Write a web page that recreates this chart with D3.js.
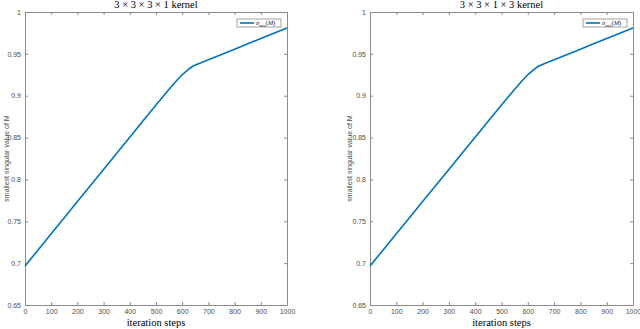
<!DOCTYPE html>
<html>
<head>
<meta charset="utf-8">
<script src="https://cdn.jsdelivr.net/npm/d3@7"></script>
<style>
  body { margin: 0; background: #fff; }
  svg { display: block; }
</style>
</head>
<body>
<div id="chart"></div>
<script>
const steps = [0, 50, 100, 150, 200, 250, 300, 350, 400, 450, 500, 550, 580, 605, 625, 640, 660, 700, 750, 800, 850, 900, 950, 1000]
const sigmaLeft = [0.6965, 0.7158, 0.735, 0.7543, 0.7735, 0.7928, 0.812, 0.8313, 0.8505, 0.8698, 0.889, 0.9078, 0.9185, 0.9265, 0.9318, 0.9352, 0.938, 0.9429, 0.9492, 0.9556, 0.962, 0.9683, 0.9747, 0.981]
const sigmaRight = [0.6965, 0.7158, 0.735, 0.7543, 0.7735, 0.7928, 0.812, 0.8313, 0.8505, 0.8698, 0.889, 0.9078, 0.9185, 0.9265, 0.9318, 0.9352, 0.938, 0.9429, 0.9492, 0.9556, 0.962, 0.9683, 0.9747, 0.981]
const titles = ["3 \u00d7 3 \u00d7 3 \u00d7 1 kernel", "3 \u00d7 3 \u00d7 1 \u00d7 3 kernel"]
const xTicks = [0, 100, 200, 300, 400, 500, 600, 700, 800, 900, 1000]
const yTicks = [0.65, 0.7, 0.75, 0.8, 0.85, 0.9, 0.95, 1]

const W = 640, H = 329
const svg = d3.select("#chart").append("svg")
    .attr("width", W)
    .attr("height", H)

const panels = [
  {left: 25, right: 287, labelX: 9, data: sigmaLeft, title: titles[0]},
  {left: 370, right: 633, labelX: 352, data: sigmaRight, title: titles[1]}
]
const plotTop = 12, plotBottom = 305
const axisColor = "#8c8c8c"
const textColor = "#4d4d4d"

panels.forEach(function(p) {
  const x = d3.scaleLinear().domain([0, 1000]).range([p.left, p.right])
  const y = d3.scaleLinear().domain([0.65, 1]).range([plotBottom, plotTop])
  const g = svg.append("g")

  // axes, ticks pointing inward like matlab
  const xb = g.append("g")
    .attr("transform", `translate(0,${plotBottom})`)
    .call(d3.axisBottom(x).tickValues(xTicks).tickSizeInner(-3).tickSizeOuter(0).tickPadding(5).tickFormat(d3.format("d")))
  g.append("g")
    .attr("transform", `translate(0,${plotTop})`)
    .call(d3.axisTop(x).tickValues(xTicks).tickSizeInner(-3).tickSizeOuter(0).tickFormat(""))
  g.append("g")
    .attr("transform", `translate(${p.left},0)`)
    .call(d3.axisLeft(y).tickValues(yTicks).tickSizeInner(-3).tickSizeOuter(0).tickPadding(4).tickFormat(d3.format("")))
  g.append("g")
    .attr("transform", `translate(${p.right},0)`)
    .call(d3.axisRight(y).tickValues(yTicks).tickSizeInner(-3).tickSizeOuter(0).tickFormat(""))

  g.selectAll(".domain").attr("stroke", axisColor)
  g.selectAll(".tick line").attr("stroke", axisColor)
  g.selectAll(".tick text")
    .style("font-family", "Liberation Sans, Arial, sans-serif")
    .style("font-size", "7px")
    .attr("fill", textColor)
  xb.selectAll(".tick text").attr("dy", "0.5em")

  // line
  const pts = steps.map((s, i) => ({s: s, v: p.data[i]}))
  g.append("path")
    .datum(pts)
    .attr("d", d3.line().x(d => x(d.s)).y(d => y(d.v)))
    .attr("fill", "none")
    .attr("stroke", "#0072BD")
    .attr("stroke-width", 1.6)
    .attr("stroke-linejoin", "round")

  // title
  g.append("text")
    .attr("x", (p.left + p.right) / 2)
    .attr("y", 7.5)
    .attr("text-anchor", "middle")
    .style("font-family", "Liberation Serif, Times New Roman, serif")
    .style("font-size", "10.5px")
    .attr("fill", "#000")
    .text(p.title)

  // x label
  g.append("text")
    .attr("x", (p.left + p.right) / 2)
    .attr("y", 326)
    .attr("text-anchor", "middle")
    .style("font-family", "Liberation Serif, Times New Roman, serif")
    .style("font-size", "10.5px")
    .attr("fill", "#000")
    .text("iteration steps")

  // y label
  g.append("text")
    .attr("transform", `translate(${p.labelX},${(plotTop + plotBottom) / 2}) rotate(-90)`)
    .attr("text-anchor", "middle")
    .style("font-family", "Liberation Sans, Arial, sans-serif")
    .style("font-size", "7px")
    .attr("fill", textColor)
    .text("smallest singular value of M")

  // legend
  const lx = p.right - 50, ly = 19
  g.append("rect")
    .attr("x", lx).attr("y", ly)
    .attr("width", 44).attr("height", 8)
    .attr("fill", "#fff")
    .attr("stroke", axisColor)
    .attr("stroke-width", 0.8)
  g.append("line")
    .attr("x1", lx + 3).attr("x2", lx + 17)
    .attr("y1", ly + 4).attr("y2", ly + 4)
    .attr("stroke", "#0072BD")
    .attr("stroke-width", 1.6)
  const lt = g.append("text")
    .attr("x", lx + 19).attr("y", ly + 6.3)
    .style("font-family", "Liberation Serif, Times New Roman, serif")
    .style("font-size", "6.5px")
    .style("font-style", "italic")
    .attr("fill", "#222")
  lt.append("tspan").text("\u03c3")
  lt.append("tspan").attr("dy", 1.2).style("font-size", "4px").style("font-style", "normal").text("min")
  lt.append("tspan").attr("dy", -1.2).style("font-style", "normal").text("(")
  lt.append("tspan").text("M")
  lt.append("tspan").style("font-style", "normal").text(")")
})
</script>
</body>
</html>
